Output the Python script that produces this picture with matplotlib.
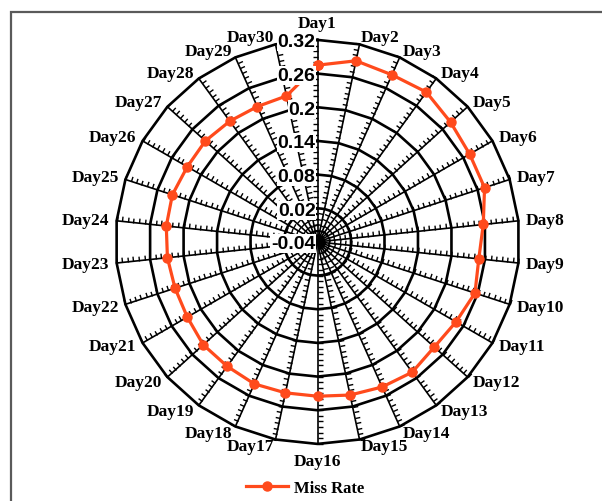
import numpy as np
import matplotlib
matplotlib.use('Agg')
import matplotlib.pyplot as plt
from matplotlib.lines import Line2D
from matplotlib.markers import MarkerStyle
from matplotlib.patches import Rectangle
from matplotlib.path import Path
from matplotlib.transforms import Affine2D

# miss rate per day, 30 days
days = ['Day%d' % i for i in range(1, 31)]
miss_rate = [0.275, 0.290, 0.286, 0.290, 0.279, 0.273, 0.273, 0.257, 0.249, 0.255,
             0.245, 0.240, 0.247, 0.243, 0.239, 0.235, 0.235, 0.237, 0.234, 0.234,
             0.228, 0.227, 0.229, 0.231, 0.232, 0.228, 0.229, 0.226, 0.224, 0.226]
r_ticks = [-0.04, 0.02, 0.08, 0.14, 0.2, 0.26, 0.32]
r_tick_labels = ['-0.04', '0.02', '0.08', '0.14', '0.2', '0.26', '0.32']
minor_step = 0.01

ORANGE = '#FF4A1C'
SERIF = 'Liberation Serif'

fig = plt.figure(figsize=(6.02, 5.02), dpi=100)
ax = fig.add_axes([0.1919, 0.1137, 0.6711, 0.8048], projection='polar')
ax.set_theta_zero_location('N')
ax.set_theta_direction(-1)
ax.set_ylim(r_ticks[0], r_ticks[-1])
ax.set_xticks([])
ax.set_yticks([])
ax.grid(False)
ax.spines['polar'].set_visible(False)
ax.patch.set_visible(False)

angles = np.linspace(0, 2 * np.pi, len(days), endpoint=False)
closed = np.append(angles, angles[0])

# polygon gridlines
for r in r_ticks[1:]:
    ax.plot(closed, [r] * len(closed), color='black', lw=1.9, zorder=2, clip_on=False)

# spokes with small one-sided ticks every 0.01
minor = np.arange(r_ticks[0] + minor_step, r_ticks[-1] + minor_step / 2, minor_step)
tick_path = Path([(0, 0), (0, 1)])
for th in angles:
    ax.plot([th, th], [r_ticks[0], r_ticks[-1]], color='black', lw=1.2, zorder=2, clip_on=False)
    s, c = round(np.sin(th), 6), np.cos(th)
    n = (-c, s) if s >= 0 else (c, -s)
    rot = np.degrees(np.arctan2(n[1], n[0])) - 90
    m = MarkerStyle(tick_path, transform=Affine2D().rotate_deg(rot))
    ax.plot([th] * len(minor), minor, ls='none', marker=m, ms=7,
            mfc='none', mec='black', mew=1.0, zorder=2, clip_on=False)

# data
ax.plot(closed, miss_rate + [miss_rate[0]], color=ORANGE, lw=2.3, marker='o', ms=6.5,
        mec=ORANGE, zorder=4, clip_on=False, solid_joinstyle='round')

# value labels on the Day1 spoke
for r, lab in zip(r_ticks, r_tick_labels):
    ax.annotate(lab, xy=(0, r), xytext=(-2, -2), textcoords='offset pixels',
                ha='right', va='center', fontsize=14, family='Liberation Sans', weight='bold',
                bbox=dict(boxstyle='square,pad=0.05', fc='white', ec='none'),
                zorder=5, annotation_clip=False)

# category labels
for th, lab in zip(angles, days):
    s, c = np.sin(th), np.cos(th)
    if s > 0.15:
        ha = 'left'
    elif s < -0.15:
        ha = 'right'
    else:
        ha = 'center'
    if abs(s) <= 0.15:
        va = 'bottom' if c > 0 else 'top'
        off = 9
    else:
        va = 'center'
        off = 7
    ax.annotate(lab, xy=(th, r_ticks[-1]), xytext=(off * s, off * c), textcoords='offset pixels',
                ha=ha, va=va, fontsize=12.5, family=SERIF, weight='bold', annotation_clip=False)

handle = Line2D([], [], color=ORANGE, lw=2.3, marker='o', ms=6.5, mec=ORANGE)
fig.legend(handles=[handle], labels=['Miss Rate'], loc='center', bbox_to_anchor=(0.507, 0.026),
           frameon=False, handlelength=2.5, handletextpad=0.4,
           prop=dict(family=SERIF, weight='bold', size=12))

fig.add_artist(Rectangle((10.5 / 602, -0.1), 1.0, 1 - 12.5 / 502 + 0.1, transform=fig.transFigure,
                         fill=False, ec='#5a5a5a', lw=1.6))

fig.savefig('out.png', dpi=100)
